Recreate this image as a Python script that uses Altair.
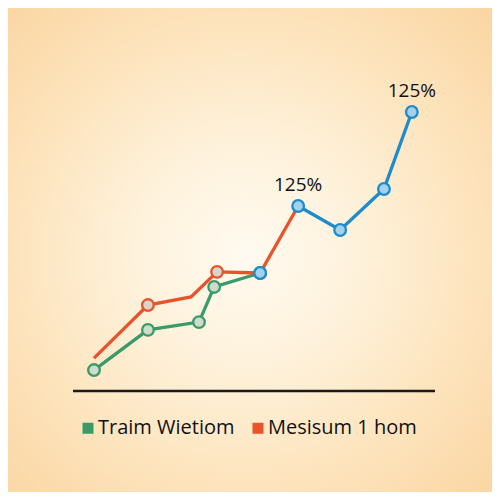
import altair as alt
import pandas as pd

# ---- data ----
green_x = [5.8, 20.7, 34.8, 39.0, 51.7]
green_y = [7.5, 21.9, 24.7, 37.3, 42.3]

orange_x = [5.8, 20.7, 32.6, 39.8, 51.7, 62.2]
orange_y = [11.8, 30.8, 33.7, 42.7, 42.3, 66.3]
orange_marker = [False, True, False, True, False, False]

blue_line_x = [62.2, 73.8, 85.9, 93.6]
blue_line_y = [66.3, 57.7, 72.4, 100.0]
blue_pt_x = [51.7, 62.2, 73.8, 85.9, 93.6]
blue_pt_y = [42.3, 66.3, 57.7, 72.4, 100.0]

label_x = [62.2, 93.6]
label_y = [66.3, 100.0]
label_text = ["125%", "125%"]

base_x = [0, 100]
base_y = [0, 0]

series_names = ["Traim Wietiom", "Mesisum 1 hom"]
series_colors = ["#3a9a68", "#e8532b"]

W = H = 484
xs = alt.Scale(domain=[0, 100], range=[65, 427])
ys = alt.Scale(domain=[0, 100], range=[383, 104])

green_df = pd.DataFrame({"x": green_x, "y": green_y, "s": series_names[0]})
orange_df = pd.DataFrame({"x": orange_x, "y": orange_y, "s": series_names[1], "m": orange_marker})
blue_line_df = pd.DataFrame({"x": blue_line_x, "y": blue_line_y})
blue_pt_df = pd.DataFrame({"x": blue_pt_x, "y": blue_pt_y})
label_df = pd.DataFrame({"x": label_x, "y": label_y, "t": label_text})
base_df = pd.DataFrame({"x": base_x, "y": base_y})

X = alt.X("x:Q", scale=xs, axis=None)
Y = alt.Y("y:Q", scale=ys, axis=None)

grad = alt.RadialGradient(
    gradient="radial",
    x1=0.49, y1=0.51, r1=0,
    x2=0.49, y2=0.51, r2=0.74,
    stops=[
        alt.GradientStop(offset=0.0, color="#fffaf0"),
        alt.GradientStop(offset=0.3, color="#fef2dc"),
        alt.GradientStop(offset=0.66, color="#fde3bb"),
        alt.GradientStop(offset=1.0, color="#fad4a0"),
    ],
)

bg = alt.Chart(pd.DataFrame({"a": [0]})).mark_rect(fill=grad).encode(
    x=alt.value(0), x2=alt.value(W), y=alt.value(0), y2=alt.value(H)
)

color_scale = alt.Scale(domain=series_names, range=series_colors)

green_line = alt.Chart(green_df).mark_line(strokeWidth=3.3).encode(
    x=X, y=Y,
    color=alt.Color("s:N", scale=color_scale, legend=alt.Legend(
        title=None, orient="none", legendX=70, legendY=410, direction="horizontal",
        symbolType="square", symbolSize=25, symbolStrokeWidth=6,
        labelFontSize=20, labelFont="Open Sans", labelColor="#111111",
        columnPadding=8, labelOffset=0, labelLimit=300, padding=0,
    )),
)
orange_line = alt.Chart(orange_df).mark_line(strokeWidth=3.3).encode(
    x=X, y=Y, color=alt.Color("s:N", scale=color_scale)
)
green_pts = alt.Chart(green_df).mark_point(
    shape="circle", size=135, filled=True, fill="#cfdccb", stroke=series_colors[0], strokeWidth=2.3, opacity=1
).encode(x=X, y=Y)
orange_pts = alt.Chart(orange_df).transform_filter("datum.m").mark_point(
    shape="circle", size=135, filled=True, fill="#d6d6cc", stroke=series_colors[1], strokeWidth=2.3, opacity=1
).encode(x=X, y=Y)
blue_line = alt.Chart(blue_line_df).mark_line(strokeWidth=3.3, color="#1e8ccc").encode(x=X, y=Y)
blue_pts = alt.Chart(blue_pt_df).mark_point(
    shape="circle", size=135, filled=True, fill="#a4d2ec", stroke="#1e8ccc", strokeWidth=2.3, opacity=1
).encode(x=X, y=Y)

baseline = alt.Chart(base_df).mark_line(color="#1a1a1a", strokeWidth=2.5).encode(x=X, y=Y)

labels = alt.Chart(label_df).mark_text(
    fontSize=19, font="Open Sans", color="#111111", dy=-21, align="center"
).encode(x=X, y=Y, text="t:N")

chart = alt.layer(
    bg, baseline, green_line, orange_line, blue_line, green_pts, orange_pts, blue_pts, labels
).properties(width=W, height=H, padding=0).configure_view(stroke=None).configure(background="#ffffff")

chart.save("out.html", embed_options={"renderer": "svg", "actions": False})
